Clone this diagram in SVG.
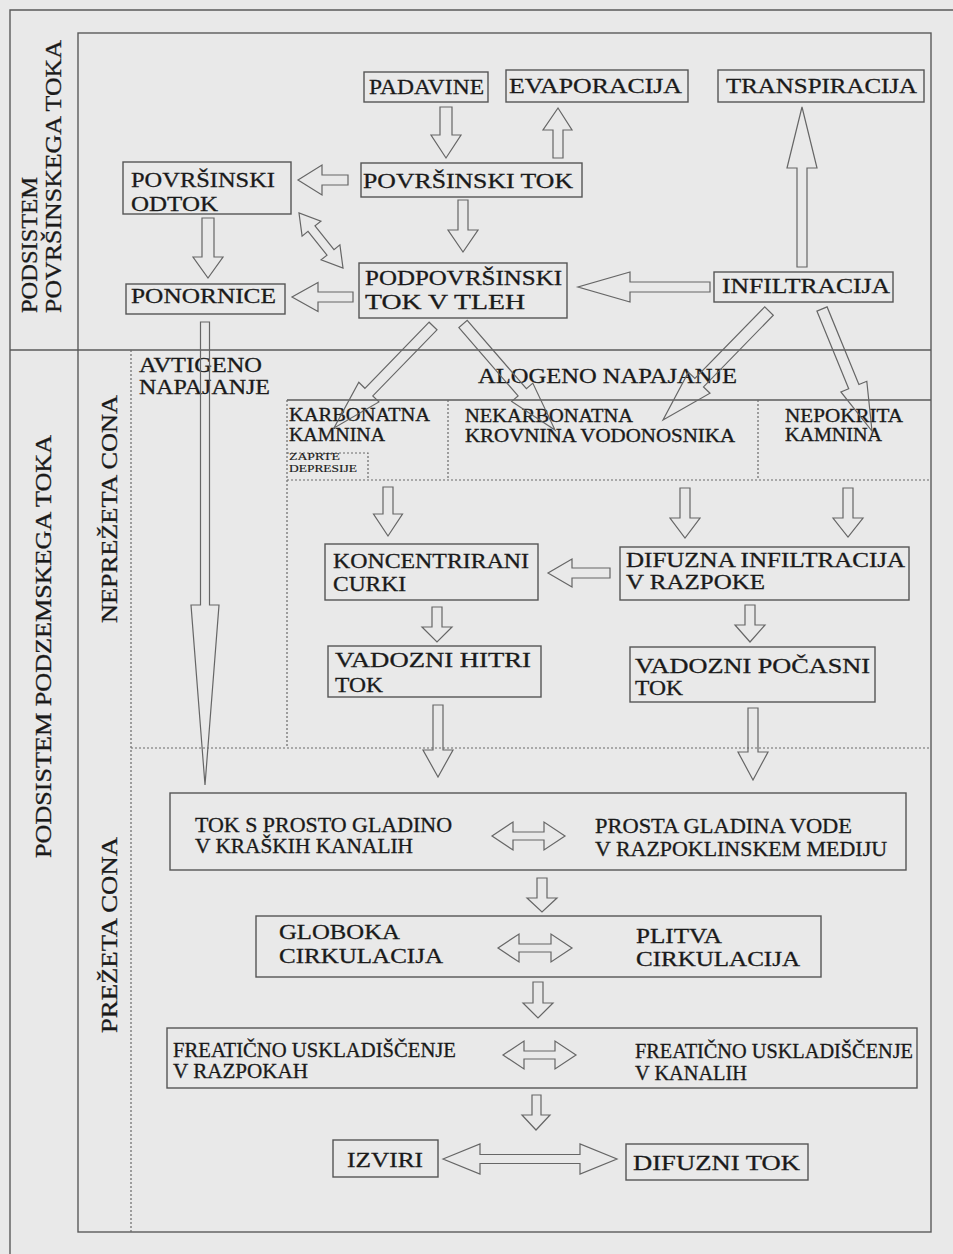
<svg xmlns="http://www.w3.org/2000/svg" width="953" height="1254" viewBox="0 0 953 1254">
<style>
.bg{fill:#e9e9e9}
.ln{stroke:#5a5a5a;stroke-width:1.4;fill:none}
.dt{stroke:#6a6a6a;stroke-width:1.2;fill:none;stroke-dasharray:2 2}
.bx{stroke:#555;stroke-width:1.4;fill:none}
.ar{stroke:#666;stroke-width:1.2;fill:none;stroke-linejoin:miter}
text{font-family:"Liberation Serif","Times New Roman",serif;font-size:22px;fill:#1a1a1a;stroke:#1a1a1a;stroke-width:0.3}
.t2{font-size:20.5px}
.sm{font-size:18px}
.xs{font-size:10.5px;stroke-width:0.15}
.vt{font-size:24px}
</style>
<rect class="bg" x="0" y="0" width="953" height="1254"/>
<g id="frame">
<path class="ln" d="M10,1254 V10 H953"/>
<rect class="ln" x="78" y="33" width="853" height="1199"/>
<path class="ln" d="M10,350 H931"/>
<path class="ln" d="M287,400 H931"/>
<path class="dt" d="M131,350 V1232"/>
<path class="dt" d="M287,400 V748"/>
<path class="dt" d="M131,748 H931"/>
<path class="dt" d="M287,480 H931"/>
<path class="dt" d="M448,400 V480"/>
<path class="dt" d="M758,400 V480"/>
<path class="dt" d="M287,453 H368 V480"/>
</g>
<g id="zone-labels">
<text class="vt" transform="translate(37,313) rotate(-90)" textLength="136" lengthAdjust="spacingAndGlyphs">PODSISTEM</text>
<text class="vt" transform="translate(61,313) rotate(-90)" textLength="273" lengthAdjust="spacingAndGlyphs">POVRŠINSKEGA TOKA</text>
<text class="vt" transform="translate(51,858) rotate(-90)" textLength="423" lengthAdjust="spacingAndGlyphs">PODSISTEM PODZEMSKEGA TOKA</text>
<text class="vt" transform="translate(117,623) rotate(-90)" textLength="228" lengthAdjust="spacingAndGlyphs">NEPREŽETA CONA</text>
<text class="vt" transform="translate(117,1033) rotate(-90)" textLength="196" lengthAdjust="spacingAndGlyphs">PREŽETA CONA</text>
</g>
<g id="padavine"><rect class="bx" x="364" y="72" width="124" height="30"/><text x="369" y="94" textLength="115" lengthAdjust="spacingAndGlyphs">PADAVINE</text></g>
<g id="evaporacija"><rect class="bx" x="506" y="70" width="182" height="32"/><text x="509" y="93" textLength="173" lengthAdjust="spacingAndGlyphs">EVAPORACIJA</text></g>
<g id="transpiracija"><rect class="bx" x="718" y="70" width="206" height="32"/><text x="726" y="93" textLength="191" lengthAdjust="spacingAndGlyphs">TRANSPIRACIJA</text></g>
<g id="povrsinski-tok"><rect class="bx" x="361" y="163" width="221" height="34"/><text x="363" y="188" textLength="210" lengthAdjust="spacingAndGlyphs">POVRŠINSKI TOK</text></g>
<g id="povrsinski-odtok"><rect class="bx" x="123" y="162" width="168" height="52"/><text x="131" y="187" textLength="144" lengthAdjust="spacingAndGlyphs">POVRŠINSKI</text><text x="131" y="211" textLength="87" lengthAdjust="spacingAndGlyphs">ODTOK</text></g>
<g id="ponornice"><rect class="bx" x="126" y="284" width="159" height="30"/><text x="131" y="303" textLength="145" lengthAdjust="spacingAndGlyphs">PONORNICE</text></g>
<g id="podpovrsinski"><rect class="bx" x="359" y="263" width="208" height="55"/><text x="365" y="285" textLength="197" lengthAdjust="spacingAndGlyphs">PODPOVRŠINSKI</text><text x="365" y="309" textLength="160" lengthAdjust="spacingAndGlyphs">TOK V TLEH</text></g>
<g id="infiltracija"><rect class="bx" x="714" y="272" width="179" height="30"/><text x="722" y="293" textLength="168" lengthAdjust="spacingAndGlyphs">INFILTRACIJA</text></g>
<g id="avtigeno"><text class="t2" x="139" y="372" textLength="123" lengthAdjust="spacingAndGlyphs">AVTIGENO</text><text class="t2" x="139" y="394" textLength="131" lengthAdjust="spacingAndGlyphs">NAPAJANJE</text></g>
<g id="alogeno"><text x="478" y="383" textLength="259" lengthAdjust="spacingAndGlyphs">ALOGENO NAPAJANJE</text></g>
<g id="karbonatna"><text class="sm" x="289" y="421" textLength="141" lengthAdjust="spacingAndGlyphs">KARBONATNA</text><text class="sm" x="289" y="441" textLength="96" lengthAdjust="spacingAndGlyphs">KAMNINA</text></g>
<g id="zaprte"><text class="xs" x="289" y="460" textLength="51" lengthAdjust="spacingAndGlyphs">ZAPRTE</text><text class="xs" x="289" y="472" textLength="68" lengthAdjust="spacingAndGlyphs">DEPRESIJE</text></g>
<g id="nekarbonatna"><text class="sm" x="465" y="422" textLength="168" lengthAdjust="spacingAndGlyphs">NEKARBONATNA</text><text class="sm" x="465" y="442" textLength="270" lengthAdjust="spacingAndGlyphs">KROVNINA VODONOSNIKA</text></g>
<g id="nepokrita"><text class="sm" x="785" y="422" textLength="118" lengthAdjust="spacingAndGlyphs">NEPOKRITA</text><text class="sm" x="785" y="441" textLength="97" lengthAdjust="spacingAndGlyphs">KAMNINA</text></g>
<g id="koncentrirani"><rect class="bx" x="325" y="544" width="213" height="56"/><text class="t2" x="333" y="568" textLength="196" lengthAdjust="spacingAndGlyphs">KONCENTRIRANI</text><text class="t2" x="333" y="591" textLength="73" lengthAdjust="spacingAndGlyphs">CURKI</text></g>
<g id="difuzna"><rect class="bx" x="620" y="547" width="289" height="53"/><text class="t2" x="626" y="567" textLength="279" lengthAdjust="spacingAndGlyphs">DIFUZNA INFILTRACIJA</text><text class="t2" x="626" y="589" textLength="139" lengthAdjust="spacingAndGlyphs">V RAZPOKE</text></g>
<g id="vadozni-hitri"><rect class="bx" x="328" y="646" width="213" height="51"/><text x="335" y="667" textLength="196" lengthAdjust="spacingAndGlyphs">VADOZNI HITRI</text><text x="335" y="692" textLength="48" lengthAdjust="spacingAndGlyphs">TOK</text></g>
<g id="vadozni-pocasni"><rect class="bx" x="630" y="647" width="245" height="55"/><text class="t2" x="635" y="673" textLength="235" lengthAdjust="spacingAndGlyphs">VADOZNI POČASNI</text><text class="t2" x="635" y="695" textLength="48" lengthAdjust="spacingAndGlyphs">TOK</text></g>
<g id="prosta-gladina"><rect class="bx" x="170" y="793" width="736" height="77"/>
<text class="t2" x="195" y="832" textLength="257" lengthAdjust="spacingAndGlyphs">TOK S PROSTO GLADINO</text><text class="t2" x="195" y="853" textLength="218" lengthAdjust="spacingAndGlyphs">V KRAŠKIH KANALIH</text>
<text class="t2" x="595" y="833" textLength="257" lengthAdjust="spacingAndGlyphs">PROSTA GLADINA VODE</text><text class="t2" x="595" y="856" textLength="292" lengthAdjust="spacingAndGlyphs">V RAZPOKLINSKEM MEDIJU</text></g>
<g id="cirkulacija"><rect class="bx" x="256" y="916" width="565" height="61"/>
<text x="279" y="939" textLength="121" lengthAdjust="spacingAndGlyphs">GLOBOKA</text><text x="279" y="963" textLength="164" lengthAdjust="spacingAndGlyphs">CIRKULACIJA</text>
<text class="t2" x="636" y="943" textLength="86" lengthAdjust="spacingAndGlyphs">PLITVA</text><text class="t2" x="636" y="966" textLength="164" lengthAdjust="spacingAndGlyphs">CIRKULACIJA</text></g>
<g id="freaticno"><rect class="bx" x="167" y="1028" width="750" height="60"/>
<text class="t2" x="173" y="1057" textLength="283" lengthAdjust="spacingAndGlyphs">FREATIČNO USKLADIŠČENJE</text><text class="t2" x="173" y="1078" textLength="135" lengthAdjust="spacingAndGlyphs">V RAZPOKAH</text>
<text class="t2" x="635" y="1058" textLength="278" lengthAdjust="spacingAndGlyphs">FREATIČNO USKLADIŠČENJE</text><text class="t2" x="635" y="1080" textLength="112" lengthAdjust="spacingAndGlyphs">V KANALIH</text></g>
<g id="izviri"><rect class="bx" x="333" y="1140" width="105" height="37"/><text x="347" y="1167" textLength="76" lengthAdjust="spacingAndGlyphs">IZVIRI</text></g>
<g id="difuzni-tok"><rect class="bx" x="626" y="1144" width="182" height="36"/><text x="633" y="1170" textLength="167" lengthAdjust="spacingAndGlyphs">DIFUZNI TOK</text></g>
<g id="connectors">
<polygon class="ar" points="440,107 452,107 452,135 461,135 446,158 431,135 440,135"/>
<polygon class="ar" points="553,158 563,158 563,130 572,130 558,108 543,130 553,130"/>
<polygon class="ar" points="797,267 807,267 807,168 817,168 802,107 787,168 797,168"/>
<polygon class="ar" points="348,175 348,185 322,185 322,195 298,180 322,165 322,175"/>
<polygon class="ar" points="458,200 468,200 468,230 478,230 463,252 448,230 458,230"/>
<polygon class="ar" points="202,218 214,218 214,257 223,257 208,278 193,257 202,257"/>
<polygon class="ar" points="353,292 353,302 318,302 318,311.5 292,297 318,282.5 318,292"/>
<polygon class="ar" points="710,282 710,292 630,292 630,302 578,287 630,272 630,282"/>
<polygon class="ar" points="200.5,322 209.5,322 209.5,605 219,605 205,785 191,605 200.5,605"/>
<polygon class="ar" points="299,213 302.1,236.1 308,231.4 327,255.2 321.1,259.9 343,268 339.9,244.9 334,249.6 315,225.8 320.9,221.1"/>
<polygon class="ar" points="429.1,322.2 364.9,388.3 358.8,382.3 334,428 378.9,401.9 372.8,395.9 437,329.8"/>
<polygon class="ar" points="458.9,327.6 518.1,395.9 511.7,401.4 555,430 532.8,383.1 526.4,388.7 467.2,320.4"/>
<polygon class="ar" points="764.7,306.8 694.9,378.5 688.4,372.2 663,420 710,393.2 703.5,386.9 773.3,315.2"/>
<polygon class="ar" points="816.9,311.1 848.7,388.7 840.9,391.9 872,431 866.8,381.3 858.9,384.5 827.1,306.9"/>
<polygon class="ar" points="383,487 393,487 393,514 402.5,514 388,536 373.5,514 383,514"/>
<polygon class="ar" points="680,488 690,488 690,518 700,518 685,538 670,518 680,518"/>
<polygon class="ar" points="843,488 853,488 853,518 863,518 848,537 833,518 843,518"/>
<polygon class="ar" points="610,568 610,578 572,578 572,587 548,573 572,559 572,568"/>
<polygon class="ar" points="745,605 755,605 755,625 765,625 750,642 735,625 745,625"/>
<polygon class="ar" points="432,607 442,607 442,627 452,627 437,642 422,627 432,627"/>
<polygon class="ar" points="433,705 443,705 443,750 453,750 438,777 423,750 433,750"/>
<polygon class="ar" points="748,708 758,708 758,752 768,752 753,780 738,752 748,752"/>
<polygon class="ar" points="492,836 513,822 513,832 544,832 544,822 565,836 544,850 544,840 513,840 513,850"/>
<polygon class="ar" points="537,878 547,878 547,898 557,898 542,912 527,898 537,898"/>
<polygon class="ar" points="498,948 519,934 519,944 551,944 551,934 572,948 551,962 551,952 519,952 519,962"/>
<polygon class="ar" points="533,982 543,982 543,1003 553,1003 538,1018 523,1003 533,1003"/>
<polygon class="ar" points="503,1055 524,1041 524,1051 555,1051 555,1041 576,1055 555,1069 555,1059 524,1059 524,1069"/>
<polygon class="ar" points="532,1095 541,1095 541,1115 550,1115 536,1130 522,1115 532,1115"/>
<polygon class="ar" points="443,1159 480,1144 480,1154.5 580,1154.5 580,1144 617,1159 580,1174 580,1163.5 480,1163.5 480,1174"/>
</g>
</svg>
